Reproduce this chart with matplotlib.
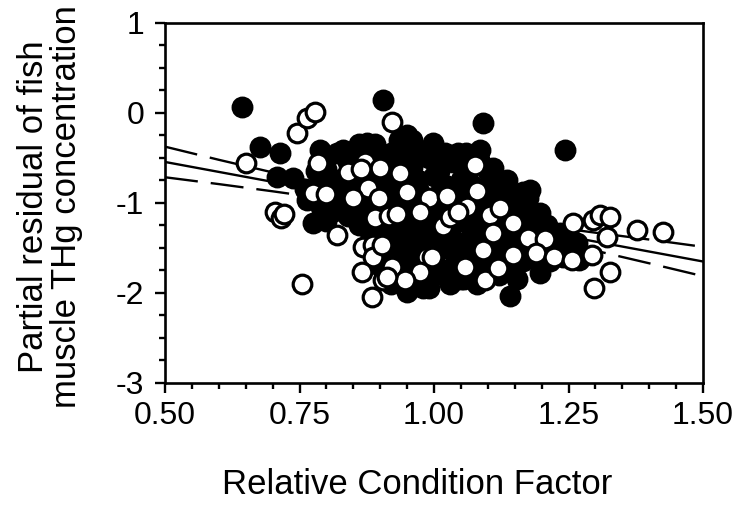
import matplotlib
matplotlib.use("Agg")
import matplotlib.pyplot as plt
from matplotlib.ticker import MultipleLocator, FormatStrFormatter

plt.rcParams["font.family"] = ["Liberation Sans", "DejaVu Sans"]

# filled circles (relative condition factor, partial residual)
filled_x = [0.643, 0.677, 0.714, 0.708, 0.738, 0.764, 0.775, 0.788, 0.831, 0.875,
            0.905, 0.950, 0.998, 1.091, 1.243, 1.141, 0.950, 0.990, 1.085, 1.110,
            1.165, 1.178, 1.197, 1.234, 1.270, 1.197, 1.050,
            0.800, 0.820, 0.840, 0.845, 0.830, 0.860, 0.855, 0.810,
            0.870, 0.880, 0.890, 0.880, 0.895, 0.900, 0.885, 0.900, 0.910, 0.905,
            0.920, 0.930, 0.940, 0.925, 0.935, 0.940, 0.930, 0.945, 0.940, 0.920, 0.950, 0.955, 0.935,
            0.960, 0.970, 0.965, 0.975, 0.970, 0.980, 0.985, 0.975, 0.990, 0.995, 1.000, 0.990, 1.000, 0.985,
            1.010, 1.020, 1.015, 1.030, 1.025, 1.040, 1.030, 1.045, 1.040, 1.050, 1.035, 1.010,
            1.060, 1.070, 1.065, 1.075, 1.080, 1.070, 1.090, 1.085, 1.095, 1.100, 1.060, 1.055,
            1.110, 1.120, 1.115, 1.130, 1.125, 1.140, 1.120, 1.145, 1.135, 1.150,
            1.160, 1.170, 1.180, 1.165, 1.190, 1.175, 1.200, 1.155,
            1.210, 1.220, 1.230, 1.250, 1.240, 1.265, 1.215, 1.260,
            0.820, 0.760, 0.790, 0.800, 0.840, 0.860,
            0.870, 0.890, 0.910, 0.930, 0.950, 0.960, 0.970, 0.980, 0.990, 1.000,
            1.010, 1.020, 1.030, 1.040, 1.050, 1.060, 1.070, 1.080, 1.090, 1.100,
            1.100, 1.110, 1.120, 1.130, 1.140, 1.150, 1.160, 1.170, 1.180, 1.190,
            1.200, 1.210, 0.950, 0.960, 0.970, 0.980, 1.000, 1.020, 1.030, 1.050,
            1.060, 1.080, 1.100, 0.920, 0.910, 0.900, 0.860, 0.850, 0.870, 0.930,
            0.960, 0.950, 1.000, 1.050, 1.130, 0.890, 0.960, 1.020, 1.060, 0.800,
            0.780]
filled_y = [0.07, -0.38, -0.44, -0.71, -0.72, -0.97, -1.22, -0.41, -0.41, -0.33,
            0.14, -0.24, -0.33, -0.11, -0.41, -2.03, -1.99, -1.95, -0.41, -0.61,
            -0.88, -0.86, -1.11, -1.33, -1.63, -1.78, -1.85,
            -0.62, -0.75, -1.15, -1.05, -0.95, -1.25, -0.48, -1.10,
            -0.70, -0.90, -1.05, -1.30, -1.45, -1.70, -0.45, -0.78, -1.25, -1.55,
            -0.45, -0.55, -0.80, -1.00, -1.20, -1.35, -1.50, -1.65, -1.90, -1.90, -1.05, -0.38, -0.30,
            -0.60, -0.75, -0.95, -1.15, -1.30, -1.45, -1.70, -1.85, -0.50, -1.00, -1.25, -1.55, -1.80, -0.42,
            -0.65, -0.80, -1.05, -1.35, -1.50, -1.65, -1.80, -0.45, -0.95, -1.20, -0.55, -1.40,
            -0.65, -0.80, -0.95, -1.25, -1.40, -1.60, -1.75, -0.55, -1.00, -1.30, -1.50, -1.85,
            -0.75, -0.90, -1.15, -1.35, -1.50, -1.65, -1.80, -1.00, -0.75, -1.20,
            -1.05, -1.25, -1.50, -1.65, -1.20, -0.95, -1.35, -1.85,
            -1.25, -1.45, -1.50, -1.40, -1.60, -1.45, -1.65, -1.55,
            -0.45, -0.85, -1.05, -1.20, -0.55, -0.35,
            -0.50, -0.60, -0.70, -0.90, -0.70, -0.50, -0.85, -1.05, -1.20, -0.70,
            -0.90, -1.15, -1.25, -1.05, -0.75, -1.10, -1.35, -1.15, -0.85, -0.65,
            -1.15, -1.45, -1.60, -1.25, -0.95, -1.40, -1.55, -1.40, -1.10, -1.60,
            -1.50, -1.40, -1.50, -1.75, -1.60, -1.95, -1.65, -1.75, -1.90, -1.60,
            -1.75, -1.90, -1.60, -1.05, -1.40, -1.15, -1.00, -0.80, -1.15, -1.75,
            -1.25, -1.40, -1.40, -1.45, -1.10, -0.35, -0.30, -0.45, -0.45, -0.75,
            -0.65]

# open circles
open_x = [0.651, 0.745, 0.764, 0.779, 0.705, 0.715, 0.722, 0.755, 0.820, 0.785,
          0.775, 0.840, 0.868, 0.887, 0.887, 0.866, 0.905, 0.885, 0.922, 0.872,
          0.900, 0.877, 0.849, 0.897, 0.890, 0.916, 0.922, 0.937, 0.950, 0.987,
          0.974, 0.990, 1.024, 1.017, 0.974, 1.030, 1.076, 1.080, 1.061, 1.104,
          1.123, 1.147, 1.091, 1.058, 1.095, 1.119, 1.146, 1.174, 1.206, 1.190,
          1.223, 1.256, 1.258, 1.296, 1.309, 1.327, 1.322, 1.294, 1.327, 1.297,
          1.377, 1.426, 0.946, 0.913, 0.903, 1.045, 1.110, 0.996, 0.931, 0.800,
          0.865]
open_y = [-0.56, -0.22, -0.06, 0.01, -1.10, -1.17, -1.12, -1.90, -1.36, -0.56,
          -0.89, -0.66, -1.49, -1.47, -1.60, -1.77, -1.86, -2.05, -1.71, -0.54,
          -0.61, -0.83, -0.94, -0.94, -1.17, -1.14, -0.10, -0.67, -0.88, -1.60,
          -1.77, -0.95, -0.92, -1.26, -1.10, -1.16, -0.58, -0.87, -1.04, -1.13,
          -1.06, -1.22, -1.52, -1.71, -1.86, -1.72, -1.58, -1.39, -1.40, -1.56,
          -1.60, -1.63, -1.22, -1.19, -1.13, -1.16, -1.38, -1.58, -1.77, -1.94,
          -1.30, -1.32, -1.86, -1.82, -1.47, -1.10, -1.33, -1.60, -1.12, -0.90,
          -0.62]

# fitted line and confidence band
fit_x = [0.5, 1.5]
fit_y = [-0.544, -1.650]
band_x = [0.5, 0.6, 0.7, 0.8, 0.9, 1.0, 1.1, 1.2, 1.3, 1.4, 1.5]
band_upper = [-0.374, -0.520, -0.660, -0.798, -0.929, -1.050, -1.153, -1.250,
              -1.330, -1.406, -1.487]
band_lower = [-0.714, -0.790, -0.870, -0.954, -1.043, -1.144, -1.263, -1.400,
              -1.530, -1.670, -1.813]

fig = plt.figure(figsize=(7.44, 5.11), dpi=100)
ax = fig.add_axes([0.2218, 0.2505, 0.7231, 0.7045])

ax.plot(fit_x, fit_y, color="black", lw=1.7, zorder=1)
for band in (band_upper, band_lower):
    ax.plot(band_x, band, color="black", lw=1.7, linestyle=(0, (14, 5.5)), zorder=1)

ax.scatter(filled_x, filled_y, s=195, facecolor="black", edgecolor="black",
           linewidths=1.8, zorder=2, clip_on=False)
ax.scatter(open_x, open_y, s=180, facecolor="white", edgecolor="black",
           linewidths=2.3, zorder=3, clip_on=False)

ax.set_xlim(0.5, 1.5)
ax.set_ylim(-3, 1)
ax.xaxis.set_major_locator(MultipleLocator(0.25))
ax.xaxis.set_minor_locator(MultipleLocator(0.05))
ax.yaxis.set_major_locator(MultipleLocator(1))
ax.yaxis.set_minor_locator(MultipleLocator(0.25))
ax.xaxis.set_major_formatter(FormatStrFormatter("%.2f"))
ax.yaxis.set_major_formatter(FormatStrFormatter("%d"))

for s in ax.spines.values():
    s.set_linewidth(1.9)
ax.tick_params(which="major", direction="out", length=7, width=1.7,
               labelsize=23, pad=6, top=False, right=False)
ax.tick_params(which="minor", direction="out", length=4, width=1.7,
               top=False, right=False)
ax.tick_params(axis="y", which="major", pad=8)

ax.set_xlabel("Relative Condition Factor", fontsize=25)
ax.xaxis.set_label_coords(0.468, -0.235)
ax.set_ylabel("Partial residual of fish\nmuscle THg concentration", fontsize=25,
              linespacing=1.0)
ax.yaxis.set_label_coords(-0.152, 0.49)

fig.savefig("out.png", dpi=100)
